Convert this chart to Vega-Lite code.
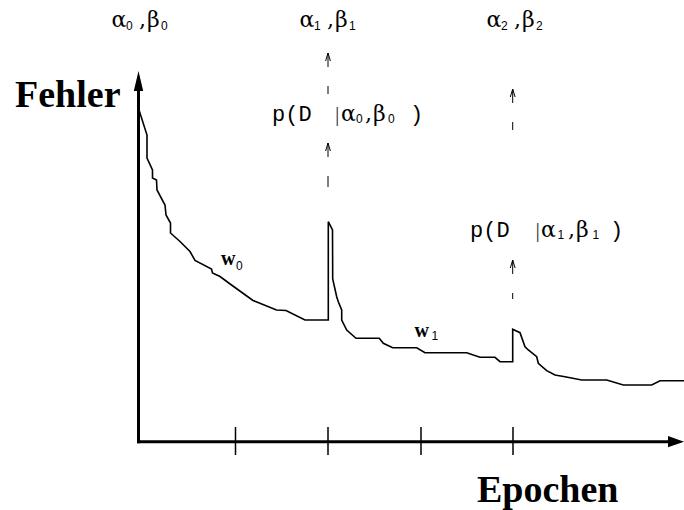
{
  "$schema": "https://vega.github.io/schema/vega-lite/v6.json",
  "width": 684,
  "height": 510,
  "autosize": "none",
  "padding": 0,
  "background": "white",
  "config": {"view": {"stroke": null}},
  "datasets": {
    "curve": [
      {"i":1,"x":139,"y":400},{"i":2,"x":147,"y":375},{"i":3,"x":147,"y":352},{"i":4,"x":152.5,"y":340},
      {"i":5,"x":152.5,"y":332},{"i":6,"x":156.5,"y":330},{"i":7,"x":157,"y":320},{"i":8,"x":165,"y":305},
      {"i":9,"x":166,"y":295},{"i":10,"x":170.5,"y":287},{"i":11,"x":170.5,"y":277},{"i":12,"x":180,"y":268.5},
      {"i":13,"x":190,"y":258.5},{"i":14,"x":195,"y":249.5},{"i":15,"x":211.5,"y":241},{"i":16,"x":212.5,"y":237},
      {"i":17,"x":220,"y":233.5},{"i":18,"x":231.5,"y":225},{"i":19,"x":253,"y":209.5},{"i":20,"x":276.5,"y":200},
      {"i":21,"x":286,"y":199.5},{"i":22,"x":305,"y":190},{"i":23,"x":328.3,"y":190},{"i":24,"x":328.3,"y":288.3},
      {"i":25,"x":332.5,"y":280},{"i":26,"x":332.7,"y":231},{"i":27,"x":336.7,"y":213.3},{"i":28,"x":338.3,"y":208.3},
      {"i":29,"x":341.7,"y":200},{"i":30,"x":341.7,"y":190},{"i":31,"x":346.7,"y":180},{"i":32,"x":356,"y":171.7},
      {"i":33,"x":379.3,"y":171.7},{"i":34,"x":383.3,"y":166.7},{"i":35,"x":392.7,"y":162.3},{"i":36,"x":416.7,"y":162.3},
      {"i":37,"x":425,"y":157.3},{"i":38,"x":466.7,"y":157.3},{"i":39,"x":480,"y":152.7},{"i":40,"x":495,"y":152.7},
      {"i":41,"x":500,"y":148.3},{"i":42,"x":512.7,"y":148.3},{"i":43,"x":512.7,"y":180.7},{"i":44,"x":520,"y":177.3},
      {"i":45,"x":525,"y":163.3},{"i":46,"x":528.3,"y":160},{"i":47,"x":536.7,"y":153.3},{"i":48,"x":538.3,"y":146.7},
      {"i":49,"x":546.7,"y":139.3},{"i":50,"x":555,"y":135},{"i":51,"x":565,"y":133.3},{"i":52,"x":581.7,"y":130},
      {"i":53,"x":606.7,"y":130},{"i":54,"x":623.3,"y":125},{"i":55,"x":651.7,"y":125},{"i":56,"x":660,"y":129.3},
      {"i":57,"x":684,"y":129.3}
    ],
    "axes": [
      {"x":138.5,"x2":138.5,"y":66.8,"y2":422},
      {"x":137,"x2":670,"y":68.3,"y2":68.3}
    ],
    "ticks": [
      {"x":235.5,"y":55,"y2":83},
      {"x":328,"y":55,"y2":83},
      {"x":421,"y":55,"y2":83},
      {"x":513,"y":55,"y2":83}
    ],
    "dashes": [
      {"x":328,"y":457,"y2":416},
      {"x":328,"y":367,"y2":323},
      {"x":512.7,"y":421,"y2":380},
      {"x":512.7,"y":250,"y2":211}
    ],
    "chevrons": [
      {"x":328,"y":453},
      {"x":328,"y":363},
      {"x":512.7,"y":417},
      {"x":512.7,"y":246}
    ],
    "yhead": [{"x":138.5,"y":429}],
    "xhead": [{"x":676,"y":68.3}],
    "sym": [
      {"x":111.5,"y":483,"t":"α"},{"x":139,"y":483,"t":","},{"x":147,"y":483,"t":"β"},
      {"x":299.5,"y":483,"t":"α"},{"x":327,"y":483,"t":","},{"x":335,"y":483,"t":"β"},
      {"x":486.5,"y":483,"t":"α"},{"x":514,"y":483,"t":","},{"x":522,"y":483,"t":"β"},
      {"x":341,"y":389,"t":"α"},{"x":365,"y":389,"t":","},{"x":373,"y":389,"t":"β"},
      {"x":541,"y":273,"t":"α"},{"x":568,"y":273,"t":","},{"x":576,"y":273,"t":"β"}
    ],
    "bars": [
      {"x":335,"y":389,"t":"|"},
      {"x":535.5,"y":273,"t":"|"}
    ],
    "sub": [
      {"x":126,"y":480.5,"t":"0"},{"x":161,"y":480.5,"t":"0"},
      {"x":314,"y":480.5,"t":"1"},{"x":349,"y":480.5,"t":"1"},
      {"x":501,"y":480.5,"t":"2"},{"x":536,"y":480.5,"t":"2"},
      {"x":356,"y":387.5,"t":"0"},{"x":388,"y":387.5,"t":"0"},
      {"x":557.5,"y":271.5,"t":"1"},{"x":592.5,"y":271.5,"t":"1"},
      {"x":236,"y":240,"t":"0"},
      {"x":431.5,"y":170,"t":"1"}
    ],
    "mono": [
      {"x":272,"y":389,"t":"p(D"},{"x":410,"y":389,"t":")"},
      {"x":470,"y":273,"t":"p(D"},{"x":610,"y":273,"t":")"}
    ],
    "wlab": [
      {"x":221,"y":245,"t":"w"},
      {"x":414.5,"y":173.3,"t":"w"}
    ],
    "titles": [
      {"x":15,"y":403,"t":"Fehler"},
      {"x":477,"y":8,"t":"Epochen"}
    ]
  },
  "encoding": {
    "x": {"field": "x", "type": "quantitative", "scale": {"domain": [0, 684], "nice": false, "zero": false}, "axis": null},
    "y": {"field": "y", "type": "quantitative", "scale": {"domain": [0, 510], "nice": false, "zero": false}, "axis": null}
  },
  "layer": [
    {"data": {"name": "axes"}, "mark": {"type": "rule", "color": "black", "strokeWidth": 3},
     "encoding": {"x2": {"field": "x2"}, "y2": {"field": "y2"}}},
    {"data": {"name": "ticks"}, "mark": {"type": "rule", "color": "black", "strokeWidth": 1.5},
     "encoding": {"y2": {"field": "y2"}}},
    {"data": {"name": "yhead"}, "mark": {"type": "point", "shape": "M0,-1L0.47,1L-0.47,1Z", "size": 400, "filled": true, "color": "black", "opacity": 1, "strokeWidth": 0}},
    {"data": {"name": "xhead"}, "mark": {"type": "point", "shape": "M1,0L-1,0.7L-1,-0.7Z", "size": 256, "filled": true, "color": "black", "opacity": 1, "strokeWidth": 0}},
    {"data": {"name": "curve"}, "mark": {"type": "line", "color": "black", "strokeWidth": 1.6},
     "encoding": {"order": {"field": "i", "type": "quantitative"}}},
    {"data": {"name": "dashes"}, "mark": {"type": "rule", "color": "black", "strokeWidth": 1, "strokeDash": [14, 19]},
     "encoding": {"y2": {"field": "y2"}}},
    {"data": {"name": "chevrons"}, "mark": {"type": "point", "shape": "M-0.6,1L0,-1L0.6,1", "size": 64, "filled": false, "color": "black", "opacity": 1, "strokeWidth": 1}},
    {"data": {"name": "sym"}, "mark": {"type": "text", "align": "left", "baseline": "alphabetic", "font": "DejaVu Serif", "fontSize": 22, "color": "black"},
     "encoding": {"text": {"field": "t"}}},
    {"data": {"name": "bars"}, "mark": {"type": "text", "align": "left", "baseline": "alphabetic", "font": "Liberation Serif", "fontSize": 22, "color": "#333333"},
     "encoding": {"text": {"field": "t"}}},
    {"data": {"name": "sub"}, "mark": {"type": "text", "align": "left", "baseline": "alphabetic", "font": "Liberation Sans", "fontSize": 12, "color": "black"},
     "encoding": {"text": {"field": "t"}}},
    {"data": {"name": "mono"}, "mark": {"type": "text", "align": "left", "baseline": "alphabetic", "font": "Liberation Mono", "fontSize": 22, "color": "black"},
     "encoding": {"text": {"field": "t"}}},
    {"data": {"name": "wlab"}, "mark": {"type": "text", "align": "left", "baseline": "alphabetic", "font": "Liberation Serif", "fontWeight": "bold", "fontSize": 20, "color": "black"},
     "encoding": {"text": {"field": "t"}}},
    {"data": {"name": "titles"}, "mark": {"type": "text", "align": "left", "baseline": "alphabetic", "font": "Liberation Serif", "fontWeight": "bold", "fontSize": 38, "color": "black"},
     "encoding": {"text": {"field": "t"}}}
  ]
}
